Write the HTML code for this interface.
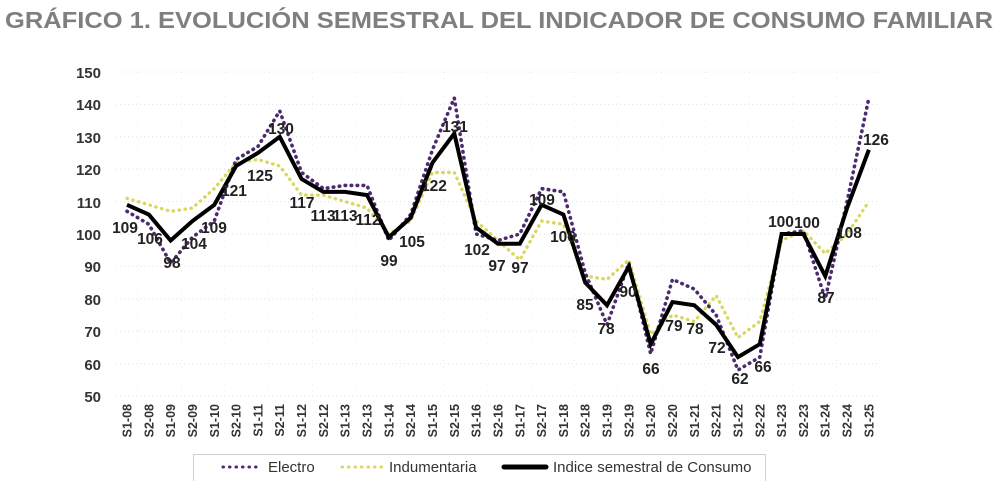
<!DOCTYPE html>
<html><head><meta charset="utf-8"><style>
body{margin:0;background:#fff}
svg{display:block;font-family:"Liberation Sans",Arial,sans-serif}
.yl{font-size:15px;font-weight:bold;fill:#333;text-anchor:end}
.xl{font-size:12.5px;font-weight:bold;fill:#333;text-anchor:end}
.dl{font-size:15.5px;font-weight:bold;fill:#222;text-anchor:middle}
</style></head><body>
<svg width="1000" height="481" viewBox="0 0 1000 481">
<text x="5" y="28" font-size="23" font-weight="bold" fill="#7f7f7f" textLength="988" lengthAdjust="spacingAndGlyphs">GRÁFICO 1. EVOLUCIÓN SEMESTRAL DEL INDICADOR DE CONSUMO FAMILIAR</text>
<g stroke="#e2e2e2" stroke-width="1" stroke-dasharray="1 3">
<line x1="116" x2="880" y1="72" y2="72"/><line x1="116" x2="880" y1="104.4" y2="104.4"/><line x1="116" x2="880" y1="136.8" y2="136.8"/><line x1="116" x2="880" y1="169.2" y2="169.2"/><line x1="116" x2="880" y1="201.6" y2="201.6"/><line x1="116" x2="880" y1="234" y2="234"/><line x1="116" x2="880" y1="266.4" y2="266.4"/><line x1="116" x2="880" y1="298.8" y2="298.8"/><line x1="116" x2="880" y1="331.2" y2="331.2"/><line x1="116" x2="880" y1="363.6" y2="363.6"/><line x1="116" x2="880" y1="396" y2="396"/>
</g>
<g stroke="#ececec" stroke-width="1" stroke-dasharray="1 5">
<line x1="138" x2="138" y1="72" y2="396"/><line x1="181.5" x2="181.5" y1="72" y2="396"/><line x1="225" x2="225" y1="72" y2="396"/><line x1="269" x2="269" y1="72" y2="396"/><line x1="312.5" x2="312.5" y1="72" y2="396"/><line x1="356" x2="356" y1="72" y2="396"/><line x1="400" x2="400" y1="72" y2="396"/><line x1="443.5" x2="443.5" y1="72" y2="396"/><line x1="487" x2="487" y1="72" y2="396"/><line x1="531" x2="531" y1="72" y2="396"/><line x1="574.5" x2="574.5" y1="72" y2="396"/><line x1="618" x2="618" y1="72" y2="396"/><line x1="662" x2="662" y1="72" y2="396"/><line x1="705.5" x2="705.5" y1="72" y2="396"/><line x1="749" x2="749" y1="72" y2="396"/><line x1="793" x2="793" y1="72" y2="396"/><line x1="836.5" x2="836.5" y1="72" y2="396"/><line x1="880" x2="880" y1="72" y2="396"/>
</g>
<g class="yl">
<text x="101" y="78">150</text><text x="101" y="110">140</text><text x="101" y="143">130</text><text x="101" y="175">120</text><text x="101" y="208">110</text><text x="101" y="240">100</text><text x="101" y="272">90</text><text x="101" y="305">80</text><text x="101" y="337">70</text><text x="101" y="370">60</text><text x="101" y="402">50</text>
</g>
<g transform="matrix(21.82 0 0 -3.24 127 558)" fill="none">
<polyline vector-effect="non-scaling-stroke" stroke="#d8d860" stroke-width="3.3" stroke-dasharray="0.5 5.5" stroke-linecap="round" points="0,111 1,109 2,107 3,108 4,114 5,122 6,123 7,121 8,112 9,112 10,110 11,108 12,100 13,104 14,119 15,119 16,104 17,98 18,92 19,104 20,103 21,87 22,86 23,92 24,69 25,75 26,73 27,81 28,68 29,73 30,98 31,101 32,94 33,100 34,110"/>
<polyline vector-effect="non-scaling-stroke" stroke="#4b2a6e" stroke-width="3.6" stroke-dasharray="0.5 5.5" stroke-linecap="round" points="0,107 1,103 2,91 3,99 4,104 5,123 6,127 7,138 8,119 9,114 10,115 11,115 12,98 13,106 14,126 15,142 16,100 17,98 18,100 19,114 20,113 21,88 22,72 23,91 24,63 25,86 26,83 27,75 28,58 29,62 30,100 31,101 32,80 33,110 34,142"/>
<polyline vector-effect="non-scaling-stroke" stroke="#000" stroke-width="4" stroke-linejoin="miter" points="0,109 1,106 2,98 3,104 4,109 5,121 6,125 7,130 8,117 9,113 10,113 11,112 12,99 13,105 14,122 15,131 16,102 17,97 18,97 19,109 20,106 21,85 22,78 23,90 24,66 25,79 26,78 27,72 28,62 29,66 30,100 31,100 32,87 33,108 34,126"/>
</g>
<g class="dl">
<text x="125" y="233">109</text><text x="150" y="244">106</text><text x="172" y="268">98</text><text x="194" y="249">104</text><text x="214" y="233">109</text><text x="234" y="196">121</text><text x="260" y="181">125</text><text x="281" y="134">130</text><text x="302" y="208">117</text><text x="323" y="221">113</text><text x="345" y="221">113</text><text x="368" y="225">112</text><text x="389" y="266">99</text><text x="412" y="247">105</text><text x="434" y="191">122</text><text x="455" y="132">131</text><text x="477" y="255">102</text><text x="497" y="271">97</text><text x="520" y="273">97</text><text x="542" y="205">109</text><text x="563" y="242">106</text><text x="585" y="310">85</text><text x="606" y="334">78</text><text x="628" y="297">90</text><text x="651" y="374">66</text><text x="674" y="331">79</text><text x="695" y="334">78</text><text x="717" y="353">72</text><text x="740" y="384">62</text><text x="763" y="372">66</text><text x="781" y="227">100</text><text x="807" y="228">100</text><text x="826" y="303">87</text><text x="849" y="238">108</text><text x="876" y="145">126</text>
</g>
<g class="xl">
<text transform="translate(131.5,404) rotate(-90)">S1-08</text><text transform="translate(153.3,404) rotate(-90)">S2-08</text><text transform="translate(175.1,404) rotate(-90)">S1-09</text><text transform="translate(197,404) rotate(-90)">S2-09</text><text transform="translate(218.8,404) rotate(-90)">S1-10</text><text transform="translate(240.6,404) rotate(-90)">S2-10</text><text transform="translate(262.4,404) rotate(-90)">S1-11</text><text transform="translate(284.2,404) rotate(-90)">S2-11</text><text transform="translate(306.1,404) rotate(-90)">S1-12</text><text transform="translate(327.9,404) rotate(-90)">S2-12</text><text transform="translate(349.7,404) rotate(-90)">S1-13</text><text transform="translate(371.5,404) rotate(-90)">S2-13</text><text transform="translate(393.3,404) rotate(-90)">S1-14</text><text transform="translate(415.2,404) rotate(-90)">S2-14</text><text transform="translate(437,404) rotate(-90)">S1-15</text><text transform="translate(458.8,404) rotate(-90)">S2-15</text><text transform="translate(480.6,404) rotate(-90)">S1-16</text><text transform="translate(502.4,404) rotate(-90)">S2-16</text><text transform="translate(524.3,404) rotate(-90)">S1-17</text><text transform="translate(546.1,404) rotate(-90)">S2-17</text><text transform="translate(567.9,404) rotate(-90)">S1-18</text><text transform="translate(589.7,404) rotate(-90)">S2-18</text><text transform="translate(611.5,404) rotate(-90)">S1-19</text><text transform="translate(633.4,404) rotate(-90)">S2-19</text><text transform="translate(655.2,404) rotate(-90)">S1-20</text><text transform="translate(677,404) rotate(-90)">S2-20</text><text transform="translate(698.8,404) rotate(-90)">S1-21</text><text transform="translate(720.6,404) rotate(-90)">S2-21</text><text transform="translate(742.5,404) rotate(-90)">S1-22</text><text transform="translate(764.3,404) rotate(-90)">S2-22</text><text transform="translate(786.1,404) rotate(-90)">S1-23</text><text transform="translate(807.9,404) rotate(-90)">S2-23</text><text transform="translate(829.7,404) rotate(-90)">S1-24</text><text transform="translate(851.6,404) rotate(-90)">S2-24</text><text transform="translate(873.4,404) rotate(-90)">S1-25</text>
</g>
<rect x="193.5" y="454.5" width="572" height="30" fill="#fff" stroke="#cfcfcf"/>
<line x1="223" x2="262" y1="467" y2="467" stroke="#4b2a6e" stroke-width="3" stroke-dasharray="0.5 6" stroke-linecap="round"/>
<text x="268" y="472" font-size="15" fill="#333">Electro</text>
<line x1="342" x2="382" y1="467" y2="467" stroke="#d8d860" stroke-width="3" stroke-dasharray="0.5 6" stroke-linecap="round"/>
<text x="389" y="472" font-size="15" fill="#333">Indumentaria</text>
<line x1="504" x2="546" y1="467" y2="467" stroke="#000" stroke-width="5" stroke-linecap="round"/>
<text x="553" y="472" font-size="15" fill="#333">Indice semestral de Consumo</text>
</svg>
</body></html>
